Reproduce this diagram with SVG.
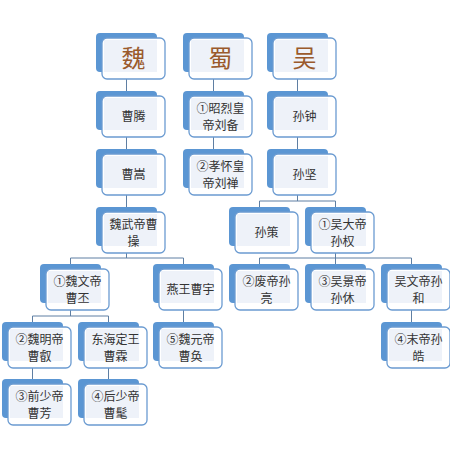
<svg xmlns="http://www.w3.org/2000/svg" width="450" height="458" viewBox="0 0 450 458">
<defs>
<style>
.bk{fill:#5b96d3;}
.fr{fill:#ffffff;stroke:#6b9bd1;stroke-width:1.3;}
.in{fill:#eef2f9;}
.t{font-family:"Noto Sans CJK SC","Noto Sans",sans-serif;font-size:12px;fill:#333333;text-anchor:middle;}
.k{font-family:"Noto Sans CJK SC","Noto Sans",sans-serif;font-size:24px;fill:#9a5a2c;text-anchor:middle;}
.c{fill:none;stroke:#5f7fa3;stroke-width:1;}
</style>
<g id="box">
<rect class="bk" x="0" y="0" width="61" height="39" rx="4"/>
<rect class="fr" x="6" y="5" width="63" height="41" rx="5"/>
<rect class="in" x="8" y="7" width="53" height="32"/>
</g>
</defs>
<rect width="450" height="458" fill="#ffffff"/>
<g id="connectors">
<path class="c" d="M126.5 79V91M126.5 137V149M126.5 195V207M126.5 253V258M70.5 258H183.5M70.5 258V264M183.5 258V264"/>
<path class="c" d="M213.5 79V91M213.5 137V149"/>
<path class="c" d="M297.5 79V91M297.5 137V149M297.5 195V201M259.5 201H335.5M259.5 201V207M335.5 201V207"/>
<path class="c" d="M335.5 253V258M259.5 258H411.5M259.5 258V264M335.5 258V264M411.5 258V264"/>
<path class="c" d="M70.5 310V316M32.5 316H108.5M32.5 316V322M108.5 316V322M183.5 310V322M411.5 310V322"/>
<path class="c" d="M32.5 368V379M108.5 368V379"/>
</g>
<g id="wei"><use href="#box" x="96" y="33"/><text class="k" x="133.5" y="67">魏</text></g>
<g id="shu"><use href="#box" x="183" y="33"/><text class="k" x="220.5" y="67">蜀</text></g>
<g id="wu"><use href="#box" x="267" y="33"/><text class="k" x="304.5" y="67">吴</text></g>
<g id="caoteng"><use href="#box" x="96" y="91"/><text class="t" x="133.5" y="121">曹腾</text></g>
<g id="liubei"><use href="#box" x="183" y="91"/><text class="t" x="220.5" y="112.5">①昭烈皇</text><text class="t" x="220.5" y="129.5">帝刘备</text></g>
<g id="sunzhong"><use href="#box" x="267" y="91"/><text class="t" x="304.5" y="121">孙钟</text></g>
<g id="caosong"><use href="#box" x="96" y="149"/><text class="t" x="133.5" y="179">曹嵩</text></g>
<g id="liushan"><use href="#box" x="183" y="149"/><text class="t" x="220.5" y="170.5">②孝怀皇</text><text class="t" x="220.5" y="187.5">帝刘禅</text></g>
<g id="sunjian"><use href="#box" x="267" y="149"/><text class="t" x="304.5" y="179">孙坚</text></g>
<g id="caocao"><use href="#box" x="96" y="207"/><text class="t" x="133.5" y="228.5">魏武帝曹</text><text class="t" x="133.5" y="245.5">操</text></g>
<g id="suance"><use href="#box" x="229" y="207"/><text class="t" x="266.5" y="237">孙策</text></g>
<g id="sunquan"><use href="#box" x="305" y="207"/><text class="t" x="342.5" y="228.5">①吴大帝</text><text class="t" x="342.5" y="245.5">孙权</text></g>
<g id="caopi"><use href="#box" x="40" y="264"/><text class="t" x="77.5" y="285.5">①魏文帝</text><text class="t" x="77.5" y="302.5">曹丕</text></g>
<g id="caoyu"><use href="#box" x="153" y="264"/><text class="t" x="190.5" y="294">燕王曹宇</text></g>
<g id="sunliang"><use href="#box" x="229" y="264"/><text class="t" x="266.5" y="285.5">②废帝孙</text><text class="t" x="266.5" y="302.5">亮</text></g>
<g id="sunxiu"><use href="#box" x="305" y="264"/><text class="t" x="342.5" y="285.5">③吴景帝</text><text class="t" x="342.5" y="302.5">孙休</text></g>
<g id="sunhe"><use href="#box" x="381" y="264"/><text class="t" x="418.5" y="285.5">吴文帝孙</text><text class="t" x="418.5" y="302.5">和</text></g>
<g id="caorui"><use href="#box" x="2" y="322"/><text class="t" x="39.5" y="343.5">②魏明帝</text><text class="t" x="39.5" y="360.5">曹叡</text></g>
<g id="caolin"><use href="#box" x="78" y="322"/><text class="t" x="115.5" y="343.5">东海定王</text><text class="t" x="115.5" y="360.5">曹霖</text></g>
<g id="caohuan"><use href="#box" x="153" y="322"/><text class="t" x="190.5" y="343.5">⑤魏元帝</text><text class="t" x="190.5" y="360.5">曹奂</text></g>
<g id="sunhao"><use href="#box" x="381" y="322"/><text class="t" x="418.5" y="343.5">④末帝孙</text><text class="t" x="418.5" y="360.5">皓</text></g>
<g id="caofang"><use href="#box" x="2" y="379"/><text class="t" x="39.5" y="400.5">③前少帝</text><text class="t" x="39.5" y="417.5">曹芳</text></g>
<g id="caomao"><use href="#box" x="78" y="379"/><text class="t" x="115.5" y="400.5">④后少帝</text><text class="t" x="115.5" y="417.5">曹髦</text></g>
</svg>
